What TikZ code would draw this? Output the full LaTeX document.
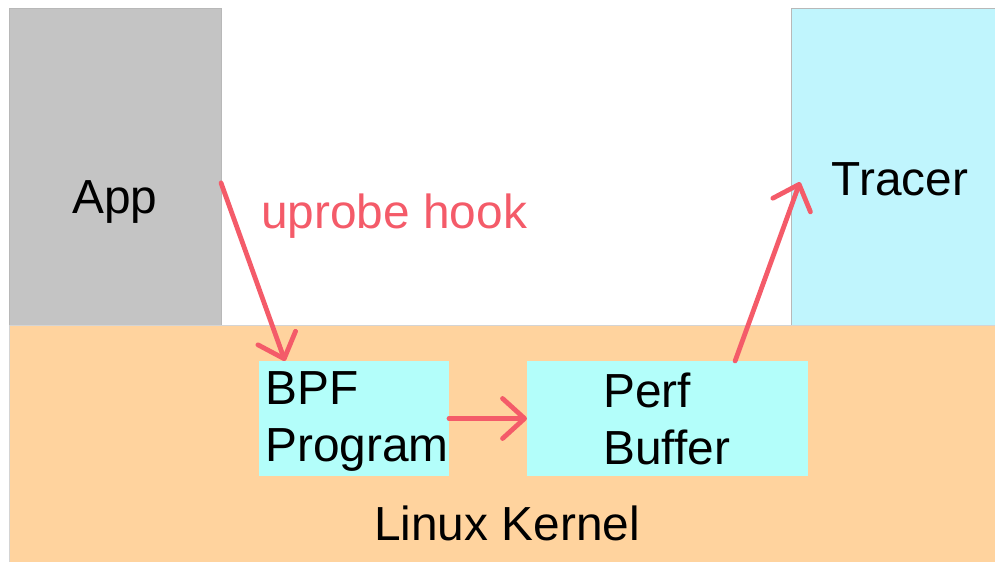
\documentclass[tikz,border=0pt]{standalone}
\usepackage{fontspec}
\setmainfont{Liberation Sans}
\usetikzlibrary{arrows.meta}
\definecolor{appgray}{HTML}{C4C4C4}
\definecolor{tracercyan}{HTML}{C0F5FD}
\definecolor{kernelorange}{HTML}{FFD39E}
\definecolor{progcyan}{HTML}{B3FEFA}
\definecolor{edgegray}{HTML}{B8B8B8}
\definecolor{hookred}{HTML}{F45B69}

\begin{document}
\begin{tikzpicture}[x=0.025cm, y=-0.025cm,
  box/.style={rectangle, inner sep=0pt, outer sep=0pt},
  label text/.style={font=\fontsize{34}{40.5}\selectfont, inner sep=0pt},
  hook arrow/.style={draw=hookred, line width=3.4pt, line cap=round,
    -{Straight Barb[length=0.55cm, width=1cm, round]}}]
 \useasboundingbox (0,0) rectangle (995,561);
 % user space and kernel
 \node[box, fill=appgray, draw=edgegray, minimum width=5.3cm, minimum height=7.925cm] (app) at (115,166.5) {};
 \node[box, fill=tracercyan, draw=edgegray, minimum width=5.15cm, minimum height=7.925cm] (tracer) at (894,166.5) {};
 \node[box, fill=kernelorange, draw=edgegray!60, minimum width=24.7cm, minimum height=5.95cm] (kernel) at (503,444) {};
 \node[box, fill=progcyan, minimum width=4.75cm, minimum height=2.875cm] (bpf) at (354,418.5) {};
 \node[box, fill=progcyan, minimum width=7.025cm, minimum height=2.875cm] (perf) at (667.5,418.5) {};
 % texts
 \node[label text, anchor=base] (apptext) at (115,213) {App};
 \node[label text, anchor=base] (tracertext) at (900,195) {Tracer};
 \node[label text, anchor=base] (kerneltext) at (507,540) {Linux Kernel};
 \node[label text, anchor=base west, text=hookred] (hooktext) at (261,228) {uprobe hook};
 \node[label text, anchor=north west, align=left] (bpftext) at (265,371) {BPF\\Program};
 \node[label text, anchor=north west, align=left] (perftext) at (603,373) {Perf\\Buffer};
 % arrows
 \draw[hook arrow] ([yshift=-0.41cm]app.east) -- ([xshift=-1.725cm]bpf.north);
 \draw[hook arrow] (bpf) -- (perf);
 \draw[hook arrow] ([xshift=1.69cm]perf.north) -- ([xshift=0.225cm, yshift=-0.39cm]tracer.west);
\end{tikzpicture}
\end{document}
